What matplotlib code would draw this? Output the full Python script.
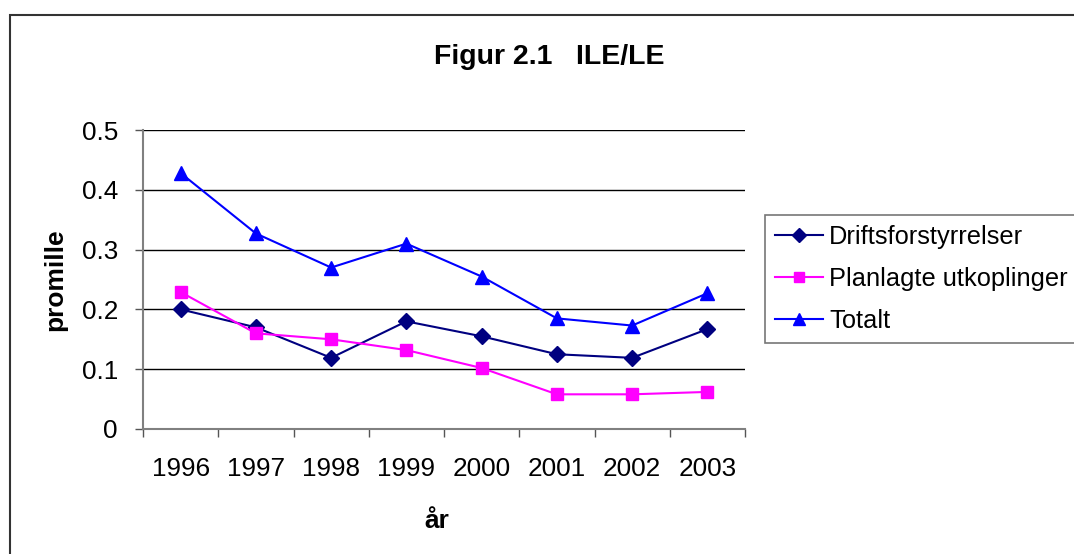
import matplotlib
matplotlib.use("Agg")
import matplotlib.pyplot as plt
from matplotlib.patches import Rectangle

plt.rcParams['font.family'] = ['Liberation Sans', 'DejaVu Sans']

# Data
years = ['1996', '1997', '1998', '1999', '2000', '2001', '2002', '2003']
drift = [0.200, 0.170, 0.119, 0.180, 0.155, 0.125, 0.119, 0.167]
planlagte = [0.229, 0.160, 0.150, 0.132, 0.102, 0.058, 0.058, 0.062]
totalt = [0.428, 0.327, 0.270, 0.310, 0.255, 0.185, 0.173, 0.227]
yticks = [0, 0.1, 0.2, 0.3, 0.4, 0.5]
ytick_labels = ['0', '0.1', '0.2', '0.3', '0.4', '0.5']

W, H = 1074, 554
fig = plt.figure(figsize=(W / 100, H / 100), dpi=100)

# outer chart border (clipped on right/bottom like the reference)
fig.patches.append(Rectangle((9.5 / W, -0.1), 1.2, 1 - 15.5 / H + 0.1,
                             transform=fig.transFigure, fill=False,
                             edgecolor='#333333', linewidth=1.5))

ax = fig.add_axes([143 / W, 1 - 429 / H, (745 - 143) / W, (429 - 130) / H])

x = list(range(len(years)))
ax.plot(x, drift, color='#000080', marker='D', markersize=8.5, linewidth=1.5,
        label='Driftsforstyrrelser')
ax.plot(x, planlagte, color='#FF00FF', marker='s', markersize=9, linewidth=1.5,
        label='Planlagte utkoplinger')
ax.plot(x, totalt, color='#0000FF', marker='^', markersize=10, linewidth=1.5,
        label='Totalt')

ax.set_xlim(-0.5, len(years) - 0.5)
ax.set_ylim(0, 0.5)
ax.set_yticks(yticks)
ax.set_yticklabels(ytick_labels, fontsize=18.8)
ax.set_xticks(x)
ax.set_xticklabels(years, fontsize=18.8)
ax.set_xticks([i - 0.5 for i in range(len(years) + 1)], minor=True)
ax.tick_params(axis='x', which='major', length=0, pad=20)
ax.tick_params(axis='x', which='minor', length=6, width=1, color='#555555', direction='out')
ax.tick_params(axis='y', length=6, width=1, color='#555555', pad=12)

for g in yticks[1:]:
    ax.axhline(g, color='black', linewidth=1, zorder=0)

for s in ['top', 'right']:
    ax.spines[s].set_visible(False)
for s in ['left', 'bottom']:
    ax.spines[s].set_color('#808080')
    ax.spines[s].set_linewidth(1.5)

fig.text(549 / W, 1 - 57 / H, 'Figur 2.1   ILE/LE', ha='center', va='center',
         fontsize=20.5, fontweight='bold')
fig.text(55 / W, 1 - 280 / H, 'promille', ha='center', va='center',
         rotation=90, fontsize=19, fontweight='bold')
fig.text(437 / W, 1 - 521 / H, 'år', ha='center', va='center',
         fontsize=19, fontweight='bold')

leg = ax.legend(loc='upper left', bbox_to_anchor=(765 / W, 1 - 215 / H),
                bbox_transform=fig.transFigure, fontsize=18.3, frameon=True,
                fancybox=False, borderaxespad=0, handlelength=1.9,
                handletextpad=0.22, borderpad=0.4, labelspacing=0.7,
                markerscale=0.8)
leg.get_frame().set_edgecolor('#555555')
leg.get_frame().set_linewidth(1.2)

fig.savefig('out.png', dpi=100)
